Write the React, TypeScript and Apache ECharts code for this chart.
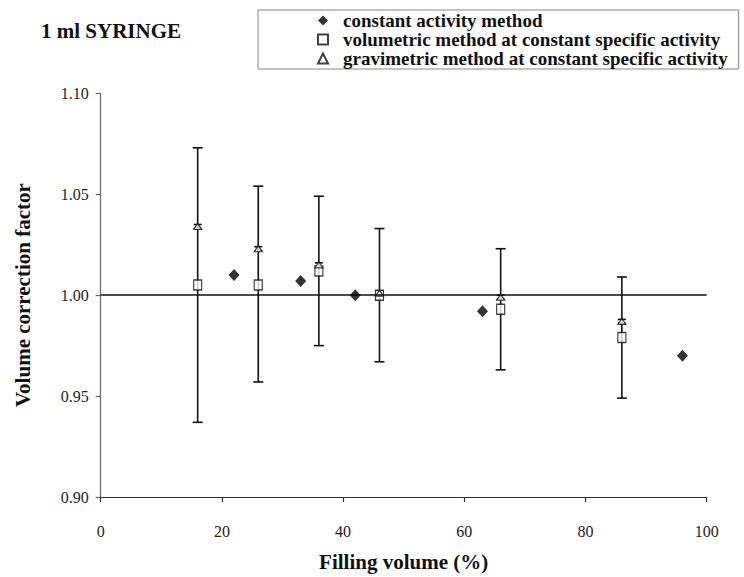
import React, { useEffect, useRef } from "react";
import * as echarts from "echarts";

// Constant activity method (filled diamonds)
const constX = [22, 33, 42, 63, 96];
const constY = [1.010, 1.007, 1.000, 0.992, 0.970];

// Volumetric method at constant specific activity (open squares) with error bars
const volX = [16, 26, 36, 46, 66, 86];
const volY = [1.005, 1.005, 1.012, 1.000, 0.993, 0.979];
const volLow = [0.937, 0.957, 0.975, 0.967, 0.963, 0.949];
const volHigh = [1.073, 1.054, 1.049, 1.033, 1.023, 1.009];

// Gravimetric method at constant specific activity (open triangles) with small error bars
const gravX = [16, 26, 36, 46, 66, 86];
const gravY = [1.034, 1.023, 1.015, 1.001, 0.999, 0.987];
const gravErr = [0.001, 0.001, 0.001, 0.001, 0.001, 0.001];

const seriesNames = [
  "constant activity method",
  "volumetric method at constant specific activity",
  "gravimetric method at constant specific activity",
];

const SERIF = "'Liberation Serif', 'Times New Roman', serif";

function errorRenderer(halfWidth: number) {
  return (params: any, api: any) => {
    const x = api.value(0);
    const lo = api.coord([x, api.value(1)]);
    const hi = api.coord([x, api.value(2)]);
    const style = { stroke: "#111", lineWidth: 1.6 };
    return {
      type: "group",
      children: [
        { type: "line", shape: { x1: lo[0], y1: lo[1], x2: hi[0], y2: hi[1] }, style },
        { type: "line", shape: { x1: lo[0] - halfWidth, y1: lo[1], x2: lo[0] + halfWidth, y2: lo[1] }, style },
        { type: "line", shape: { x1: hi[0] - halfWidth, y1: hi[1], x2: hi[0] + halfWidth, y2: hi[1] }, style },
      ],
    };
  };
}

export default function App() {
  const ref = useRef<HTMLDivElement>(null);

  useEffect(() => {
    if (!ref.current) return;
    const chart = echarts.init(ref.current, undefined, { renderer: "svg" });
    const option: any = {
      animation: false,
      backgroundColor: "#ffffff",
      title: {
        text: "1 ml SYRINGE",
        left: 36,
        top: 15,
        textStyle: { fontFamily: SERIF, fontWeight: "bold", fontSize: 21, color: "#111" },
      },
      legend: {
        orient: "vertical",
        left: 258,
        top: 10,
        data: seriesNames,
        itemWidth: 10,
        itemHeight: 10,
        itemGap: 0,
        padding: [1, 11, 1, 59],
        borderColor: "#888",
        borderWidth: 1,
        textStyle: {
          fontFamily: SERIF,
          fontWeight: "bold",
          fontSize: 19,
          lineHeight: 19,
          padding: [0, 0, 0, 10],
          color: "#111",
        },
      },
      grid: { left: 100.7, right: 37.3, top: 93.3, bottom: 71, containLabel: false },
      xAxis: {
        type: "value",
        min: 0,
        max: 100,
        interval: 20,
        splitLine: { show: false },
        axisLine: { show: true, onZero: false, lineStyle: { color: "#333", width: 1.2 } },
        axisTick: { show: true, inside: false, length: 5, lineStyle: { color: "#333", width: 1.2 } },
        axisLabel: { fontFamily: SERIF, fontSize: 16, color: "#222", margin: 26 },
        name: "Filling volume (%)",
        nameLocation: "middle",
        nameGap: 54,
        nameTextStyle: { fontFamily: SERIF, fontWeight: "bold", fontSize: 21, color: "#111" },
      },
      yAxis: {
        type: "value",
        min: 0.9,
        max: 1.1,
        interval: 0.05,
        splitLine: { show: false },
        axisLine: { show: true, onZero: false, lineStyle: { color: "#666", width: 1.2 } },
        axisTick: { show: true, inside: false, length: 5, lineStyle: { color: "#666", width: 1.2 } },
        axisLabel: {
          fontFamily: SERIF,
          fontSize: 16,
          color: "#222",
          margin: 12,
          formatter: (v: number) => v.toFixed(2),
        },
        name: "Volume correction factor",
        nameLocation: "middle",
        nameGap: 67,
        nameTextStyle: { fontFamily: SERIF, fontWeight: "bold", fontSize: 21, color: "#111" },
      },
      series: [
        {
          type: "custom",
          name: "volErr",
          data: volX.map((x, i) => [x, volLow[i], volHigh[i]]),
          renderItem: errorRenderer(5),
          encode: { x: 0, y: [1, 2] },
          silent: true,
          z: 1,
        },
        {
          type: "custom",
          name: "gravErr",
          data: gravX.map((x, i) => [x, gravY[i] - gravErr[i], gravY[i] + gravErr[i]]),
          renderItem: errorRenderer(4),
          encode: { x: 0, y: [1, 2] },
          silent: true,
          z: 1,
        },
        {
          type: "scatter",
          name: seriesNames[0],
          data: constX.map((x, i) => [x, constY[i]]),
          symbol: "diamond",
          symbolSize: [11, 12],
          itemStyle: { color: "#000" },
          z: 5,
          markLine: {
            silent: true,
            symbol: ["none", "none"],
            label: { show: false },
            lineStyle: { color: "#111", width: 1.6, type: "solid" },
            data: [{ yAxis: 1 }],
          },
        },
        {
          type: "scatter",
          name: seriesNames[1],
          data: volX.map((x, i) => [x, volY[i]]),
          symbol: "rect",
          symbolSize: [8, 10],
          itemStyle: { color: "#fff", borderColor: "#111", borderWidth: 1.3 },
          z: 4,
        },
        {
          type: "scatter",
          name: seriesNames[2],
          data: gravX.map((x, i) => [x, gravY[i]]),
          symbol: "triangle",
          symbolSize: [8, 6],
          itemStyle: { color: "#fff", borderColor: "#111", borderWidth: 1.2 },
          z: 4,
        },
      ],
    };
    chart.setOption(option);
    return () => chart.dispose();
  }, []);

  return (
    <div
      ref={ref}
      style={{ position: "fixed", left: 0, top: 0, width: 744, height: 577, background: "#fff" }}
    />
  );
}
